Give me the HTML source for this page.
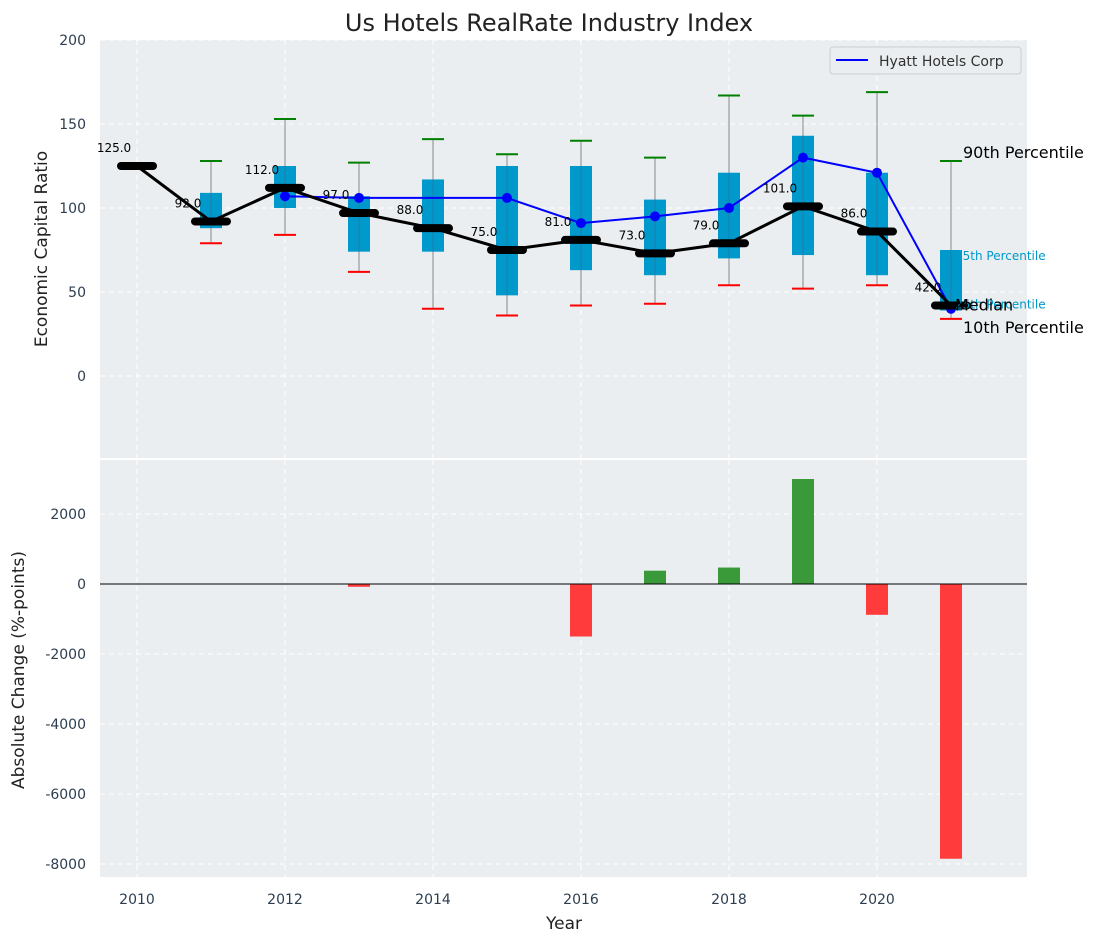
<!DOCTYPE html>
<html><head><meta charset="utf-8"><style>
body{margin:0;background:#fff;font-family:"Liberation Sans","DejaVu Sans",sans-serif}
svg text{font-family:"DejaVu Sans","Liberation Sans",sans-serif}
</style></head><body>
<svg id="c" width="1098" height="942" xmlns="http://www.w3.org/2000/svg"></svg>
<script>
const years=[2011,2012,2013,2014,2015,2016,2017,2018,2019,2020,2021];
const q1=[88,100,74,74,48,63,60,70,72,60,39];
const q3=[109,125,107,117,125,125,105,121,143,121,75];
const p10=[79,84,62,40,36,42,43,54,52,54,34];
const p90=[128,153,127,141,132,140,130,167,155,169,128];
const medYears=[2010,2011,2012,2013,2014,2015,2016,2017,2018,2019,2020,2021];
const medians=[125,92,112,97,88,75,81,73,79,101,86,42];
const hyattYears=[2012,2013,2015,2016,2017,2018,2019,2020,2021];
const hyatt=[107,106,106,91,95,100,130,121,40];
const barYears=[2013,2016,2017,2018,2019,2020,2021];
const changes=[-80,-1500,380,470,3000,-880,-7850];
const yTicksTop=[0,50,100,150,200];
const yTicksBot=[-8000,-6000,-4000,-2000,0,2000];
const xTicks=[2010,2012,2014,2016,2018,2020];

const svg=document.getElementById('c');const NS='http://www.w3.org/2000/svg';
function el(t,a,txt,p){const e=document.createElementNS(NS,t);for(const k in a)e.setAttribute(k,a[k]);if(txt!=null)e.textContent=txt;(p||svg).appendChild(e);return e;}
const L=100,R=1027;
const x=v=>137+(v-2010)*74;
const yT=v=>376-v*1.68;
const yB=v=>584-v*0.035;
let g;
g=el('rect',{x:L,y:40,width:R-L,height:418,fill:'#eaeef0'});
g=el('rect',{x:L,y:460,width:R-L,height:417,fill:'#eaeef0'});
xTicks.forEach(t=>{el('line',{x1:x(t),x2:x(t),y1:40,y2:458,stroke:'#fff','stroke-dasharray':'5,4'});el('line',{x1:x(t),x2:x(t),y1:460,y2:877,stroke:'#fff','stroke-dasharray':'5,4'});
 const tx=el('text',{x:x(t),y:904,'text-anchor':'middle','font-size':14,fill:'#2d3e50'},t);});
yTicksTop.forEach(t=>{el('line',{x1:L,x2:R,y1:yT(t),y2:yT(t),stroke:'#fff','stroke-dasharray':'5,4'});
 const tx=el('text',{x:86,y:yT(t)+5,'text-anchor':'end','font-size':14,fill:'#2d3e50'},t);});
yTicksBot.forEach(t=>{el('line',{x1:L,x2:R,y1:yB(t),y2:yB(t),stroke:'#fff','stroke-dasharray':'5,4'});
 const tx=el('text',{x:86,y:yB(t)+5,'text-anchor':'end','font-size':14,fill:'#2d3e50'},t);});
years.forEach((yr,i)=>{const cx=x(yr);
 g=el('line',{x1:cx,x2:cx,y1:yT(p90[i]),y2:yT(p10[i]),stroke:'#888','stroke-width':1});
 g=el('rect',{x:cx-11,y:yT(q3[i]),width:22,height:yT(q1[i])-yT(q3[i]),fill:'#0099cc'});
 el('line',{x1:cx,x2:cx,y1:yT(q3[i]),y2:yT(q1[i]),stroke:'#557','stroke-width':1,opacity:0.4});
 g=el('line',{x1:cx-11,x2:cx+11,y1:yT(p90[i]),y2:yT(p90[i]),stroke:'green','stroke-width':2});
 g=el('line',{x1:cx-11,x2:cx+11,y1:yT(p10[i]),y2:yT(p10[i]),stroke:'red','stroke-width':2});
});
g=el('polyline',{points:hyattYears.map((v,i)=>x(v)+','+yT(hyatt[i])).join(' '),fill:'none',stroke:'blue','stroke-width':2});
hyattYears.forEach((v,i)=>{const c=el('circle',{cx:x(v),cy:yT(hyatt[i]),r:5,fill:'blue'});});
g=el('polyline',{points:medYears.map((v,i)=>x(v)+','+yT(medians[i])).join(' '),fill:'none',stroke:'#000','stroke-width':3});
medYears.forEach((v,i)=>{const m=el('line',{x1:x(v)-16,x2:x(v)+16,y1:yT(medians[i]),y2:yT(medians[i]),stroke:'#000','stroke-width':8,'stroke-linecap':'round'});
 const t=el('text',{x:x(v)-23,y:yT(medians[i])-14,'text-anchor':'middle','font-size':12,fill:'#000'},medians[i].toFixed(1));});
const last=years.length-1,lx=x(2021),lm=medians[medians.length-1];
[['75th Percentile',lx+4,yT(q3[last])+10,12,'#0099cc'],['25th Percentile',lx+4,yT(q1[last])-2,12,'#0099cc'],['90th Percentile',lx+12,yT(p90[last])-3,16,'#000'],['Median',lx+4,yT(lm)+5,16,'#000'],['10th Percentile',lx+12,yT(p10[last])+14,16,'#000']].forEach(a=>{
 const t=el('text',{x:a[1],y:a[2],'font-size':a[3],fill:a[4]},a[0]);});
barYears.forEach((v,i)=>{const y0=yB(0),y1=yB(changes[i]);const b=el('rect',{x:x(v)-11,y:Math.min(y0,y1),width:22,height:Math.abs(y1-y0),fill:changes[i]>=0?'#3a9a3a':'#ff3b3b'});});
g=el('line',{x1:L,x2:R,y1:yB(0),y2:yB(0),stroke:'#000','stroke-width':1});
g=el('g',{});
el('rect',{x:830,y:47,width:191,height:27,rx:3,fill:'#eaeef0',stroke:'#ccc'},null,g);
el('line',{x1:836,x2:868,y1:60,y2:60,stroke:'blue','stroke-width':2},null,g);
el('text',{x:879,y:66,'font-size':14,fill:'#333'},'Hyatt Hotels Corp',g);
g=el('text',{x:549,y:31,'text-anchor':'middle','font-size':24,fill:'#222'},'Us Hotels RealRate Industry Index');
g=el('text',{x:564,y:929,'text-anchor':'middle','font-size':17,fill:'#222'},'Year');
g=el('text',{x:0,y:0,transform:'translate(47,249) rotate(-90)','text-anchor':'middle','font-size':17,fill:'#222'},'Economic Capital Ratio');
g=el('text',{x:0,y:0,transform:'translate(24,670) rotate(-90)','text-anchor':'middle','font-size':17,fill:'#222'},'Absolute Change (%-points)');
</script>
</body></html>
